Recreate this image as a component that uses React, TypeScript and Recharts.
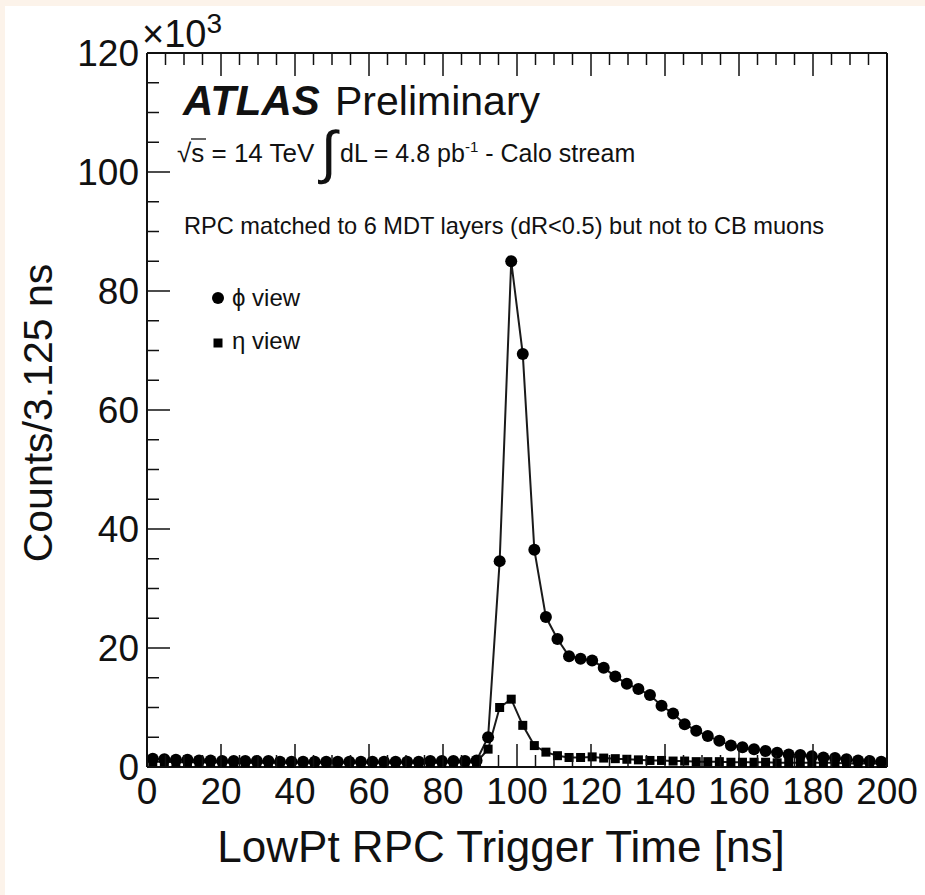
import React from 'react'
import { LineChart, Line, XAxis, YAxis, Legend } from 'recharts'

// bin centres of the 3.125 ns bins, in ns
const binCentres = [
  1.5625, 4.6875, 7.8125, 10.9375, 14.0625, 17.1875, 20.3125, 23.4375,
  26.5625, 29.6875, 32.8125, 35.9375, 39.0625, 42.1875, 45.3125, 48.4375,
  51.5625, 54.6875, 57.8125, 60.9375, 64.0625, 67.1875, 70.3125, 73.4375,
  76.5625, 79.6875, 82.8125, 85.9375, 89.0625, 92.1875, 95.3125, 98.4375,
  101.5625, 104.6875, 107.8125, 110.9375, 114.0625, 117.1875, 120.3125, 123.4375,
  126.5625, 129.6875, 132.8125, 135.9375, 139.0625, 142.1875, 145.3125, 148.4375,
  151.5625, 154.6875, 157.8125, 160.9375, 164.0625, 167.1875, 170.3125, 173.4375,
  176.5625, 179.6875, 182.8125, 185.9375, 189.0625, 192.1875, 195.3125, 198.4375,
]

// counts in units of 10^3
const phiView = [
  1.4, 1.3, 1.2, 1.2, 1.1, 1.1, 1.0, 1.0, 1.0, 1.0, 1.0, 0.9, 0.9, 0.9, 0.9, 0.9,
  0.9, 0.9, 0.9, 0.9, 0.9, 0.9, 0.9, 0.9, 1.0, 1.0, 1.0, 1.0, 1.1, 5.0, 34.6, 85.0,
  69.4, 36.5, 25.2, 21.5, 18.6, 18.2, 17.9, 16.7, 15.2, 14.0, 13.1, 12.1, 10.3, 9.0,
  7.2, 6.1, 5.2, 4.4, 3.6, 3.3, 3.0, 2.7, 2.4, 2.1, 2.0, 1.8, 1.6, 1.5, 1.3, 1.1,
  1.0, 0.9,
]

const etaView = [
  0.9, 0.9, 0.8, 0.8, 0.8, 0.8, 0.8, 0.7, 0.7, 0.7, 0.7, 0.7, 0.7, 0.7, 0.7, 0.7,
  0.7, 0.7, 0.7, 0.7, 0.7, 0.7, 0.7, 0.7, 0.7, 0.7, 0.8, 0.8, 0.8, 3.0, 10.0, 11.4,
  7.0, 3.6, 2.5, 1.9, 1.6, 1.6, 1.7, 1.5, 1.4, 1.3, 1.2, 1.1, 1.1, 1.0, 1.0, 0.9,
  0.9, 0.9, 0.8, 0.8, 0.8, 0.8, 0.7, 0.7, 0.7, 0.7, 0.7, 0.7, 0.6, 0.6, 0.6, 0.6,
]

const xTicks = [
  0, 5, 10, 15, 20, 25, 30, 35, 40, 45, 50, 55, 60, 65, 70, 75, 80, 85, 90, 95, 100,
  105, 110, 115, 120, 125, 130, 135, 140, 145, 150, 155, 160, 165, 170, 175, 180, 185,
  190, 195, 200,
]
const xLabels = [0, 20, 40, 60, 80, 100, 120, 140, 160, 180, 200]
const yTicks = [
  0, 5, 10, 15, 20, 25, 30, 35, 40, 45, 50, 55, 60, 65, 70, 75, 80, 85, 90, 95, 100,
  105, 110, 115, 120,
]
const yLabels = [0, 20, 40, 60, 80, 100, 120]

const rows = binCentres.map((t, i) => ({ t, phi: phiView[i], eta: etaView[i] }))

const INK = '#111'
const FONT = '"Liberation Sans", Arial, Helvetica, sans-serif'
const MAJOR = 23
const MINOR = 12

const BottomTick = ({ x, y, payload }: any) => {
  const major = xLabels.includes(payload.value)
  return (
    <g>
      <line x1={x} x2={x} y1={y} y2={y - (major ? MAJOR : MINOR)} stroke={INK} strokeWidth={1.5} />
      {major && (
        <text x={x} y={y + 37} textAnchor="middle" fontSize={37} fontFamily={FONT} fill={INK}>
          {payload.value}
        </text>
      )}
    </g>
  )
}

const TopTick = ({ x, y, payload }: any) => {
  const major = xLabels.includes(payload.value)
  return <line x1={x} x2={x} y1={y} y2={y + (major ? MAJOR : MINOR)} stroke={INK} strokeWidth={1.5} />
}

const LeftTick = ({ x, y, payload }: any) => {
  const major = yLabels.includes(payload.value)
  return (
    <g>
      <line x1={x} x2={x + (major ? MAJOR : MINOR)} y1={y} y2={y} stroke={INK} strokeWidth={1.5} />
      {major && (
        <text x={x - 8} y={y + 13} textAnchor="end" fontSize={37} fontFamily={FONT} fill={INK}>
          {payload.value}
        </text>
      )}
    </g>
  )
}

const RightTick = ({ x, y, payload }: any) => {
  const major = yLabels.includes(payload.value)
  return <line x1={x} x2={x - (major ? MAJOR : MINOR)} y1={y} y2={y} stroke={INK} strokeWidth={1.5} />
}

const CircleDot = (p: any) => <circle key={`c${p.index}`} cx={p.cx} cy={p.cy} r={6} fill="#000" />
const SquareDot = (p: any) => (
  <rect key={`s${p.index}`} x={p.cx - 4.5} y={p.cy - 4.5} width={9} height={9} fill="#000" />
)

const LegendBox = () => (
  <svg width={140} height={80} style={{ overflow: 'visible' }}>
    <circle cx={13} cy={14} r={6} fill="#000" />
    <text x={27} y={22} fontSize={24} fontFamily={FONT} fill={INK}>ϕ view</text>
    <rect x={8.5} y={54.5} width={9} height={9} fill="#000" />
    <text x={27} y={65} fontSize={24} fontFamily={FONT} fill={INK}>η view</text>
  </svg>
)

const axisLine = { stroke: INK, strokeWidth: 2 }

export default function App() {
  return (
    <div style={{ position: 'relative', width: 925, height: 895, background: '#fff', fontFamily: FONT }}>
      <style>{'body{margin:0}'}</style>
      <LineChart
        width={925}
        height={895}
        data={rows}
        margin={{ top: 33, right: 18, bottom: 68, left: 47 }}
      >
        <XAxis
          xAxisId="bottom"
          type="number"
          dataKey="t"
          domain={[0, 200]}
          ticks={xTicks}
          interval={0}
          height={60}
          tickSize={0}
          tickMargin={0}
          tickLine={false}
          axisLine={axisLine}
          tick={BottomTick}
        />
        <XAxis
          xAxisId="top"
          orientation="top"
          type="number"
          dataKey="t"
          domain={[0, 200]}
          ticks={xTicks}
          interval={0}
          height={20}
          tickSize={0}
          tickMargin={0}
          tickLine={false}
          axisLine={axisLine}
          tick={TopTick}
        />
        <YAxis
          yAxisId="left"
          type="number"
          domain={[0, 120]}
          ticks={yTicks}
          interval={0}
          width={100}
          tickSize={0}
          tickMargin={0}
          tickLine={false}
          axisLine={axisLine}
          tick={LeftTick}
        />
        <YAxis
          yAxisId="right"
          orientation="right"
          type="number"
          domain={[0, 120]}
          ticks={yTicks}
          interval={0}
          width={20}
          tickSize={0}
          tickMargin={0}
          tickLine={false}
          axisLine={axisLine}
          tick={RightTick}
        />
        <Legend
          layout="vertical"
          align="center"
          verticalAlign="middle"
          content={LegendBox}
          wrapperStyle={{ position: 'absolute', left: 205, top: 284, width: 140, height: 80 }}
        />
        <Line
          xAxisId="bottom"
          yAxisId="left"
          dataKey="phi"
          name="ϕ view"
          type="linear"
          stroke="#1a1a1a"
          strokeWidth={2}
          dot={CircleDot}
          activeDot={false}
          isAnimationActive={false}
        />
        <Line
          xAxisId="bottom"
          yAxisId="left"
          dataKey="eta"
          name="η view"
          type="linear"
          stroke="#1a1a1a"
          strokeWidth={2}
          dot={SquareDot}
          activeDot={false}
          isAnimationActive={false}
        />
      </LineChart>

      <svg
        width={925}
        height={895}
        style={{ position: 'absolute', left: 0, top: 0, pointerEvents: 'none' }}
        fontFamily={FONT}
        fill={INK}
      >
        <text x={142} y={47} fontSize={38}>
          ×10<tspan dy={-14} fontSize={28}>3</tspan>
        </text>
        <text x={183} y={115} fontSize={42} fontWeight="bold" fontStyle="italic">ATLAS</text>
        <text x={335} y={115} fontSize={41}>Preliminary</text>
        <line x1={191} x2={206} y1={139} y2={139} stroke={INK} strokeWidth={1.3} />
        <text x={177} y={162} fontSize={26}>
          √s = 14 TeV
        </text>
        <text x={321} y={172} fontSize={58}>∫</text>
        <text x={340} y={162} fontSize={25}>
          dL = 4.8 pb<tspan dy={-10} fontSize={15}>-1</tspan>
          <tspan dy={10}> - Calo stream</tspan>
        </text>
        <text x={184} y={234} fontSize={23.6}>
          RPC matched to 6 MDT layers (dR&lt;0.5) but not to CB muons
        </text>
        <text x={501} y={862} fontSize={44} textAnchor="middle">
          LowPt RPC Trigger Time [ns]
        </text>
        <text transform="translate(52,413) rotate(-90)" fontSize={41} textAnchor="middle">
          Counts/3.125 ns
        </text>
      </svg>

      <div style={{ position: 'absolute', left: 0, top: 0, width: 925, height: 6, background: '#fcf3ea' }} />
      <div style={{ position: 'absolute', left: 0, top: 0, width: 5, height: 895, background: '#fcf3ea' }} />
    </div>
  )
}
